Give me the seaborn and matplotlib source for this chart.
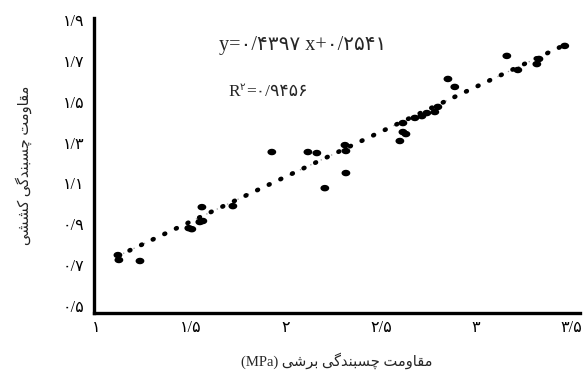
import matplotlib
matplotlib.use("Agg")
import matplotlib.pyplot as plt
from matplotlib.path import Path
import seaborn as sns
import pandas as pd
import numpy as np

# ---------------- data ----------------
shear = [1.116, 1.121, 1.232, 1.489, 1.505, 1.558, 1.547, 1.563, 1.721, 1.926,
         2.116, 2.163, 2.205, 2.316, 2.311, 2.316, 2.600, 2.616, 2.632, 2.616,
         2.679, 2.716, 2.742, 2.784, 2.800, 2.853, 2.889, 3.163, 3.221, 3.321,
         3.332, 3.468]
tensile = [0.749, 0.725, 0.720, 0.881, 0.876, 0.984, 0.911, 0.916, 0.989, 1.254,
           1.254, 1.249, 1.077, 1.151, 1.288, 1.259, 1.308, 1.352, 1.342, 1.396,
           1.421, 1.430, 1.445, 1.450, 1.475, 1.612, 1.573, 1.725, 1.656, 1.685,
           1.710, 1.774]
slope = 0.4397
intercept = 0.2541
x_ticks = [1, 1.5, 2, 2.5, 3, 3.5]
x_tick_labels = ["۱", "۱/۵", "۲", "۲/۵", "۳", "۳/۵"]
y_ticks = [0.5, 0.7, 0.9, 1.1, 1.3, 1.5, 1.7, 1.9]
y_tick_labels = ["۰/۵", "۰/۷", "۰/۹", "۱/۱", "۱/۳", "۱/۵", "۱/۷", "۱/۹"]
x_label_fa = "مقاومت چسبندگی برشی"
x_label_unit = "(MPa)"
y_label_fa = "مقاومت چسبندگی کششی"
eq_text = "y=۰/۴۳۹۷ x+۰/۲۵۴۱"
r2_value = "=۰/۹۴۵۶"

# ---------- minimal Persian shaping (visual order) ----------
FORMS = {
    'ا': ('\uFE8D', '\uFE8E', None, None),
    'ب': ('\uFE8F', '\uFE90', '\uFE91', '\uFE92'),
    'ت': ('\uFE95', '\uFE96', '\uFE97', '\uFE98'),
    'چ': ('\uFB7A', '\uFB7B', '\uFB7C', '\uFB7D'),
    'د': ('\uFEA9', '\uFEAA', None, None),
    'ر': ('\uFEAD', '\uFEAE', None, None),
    'س': ('\uFEB1', '\uFEB2', '\uFEB3', '\uFEB4'),
    'ش': ('\uFEB5', '\uFEB6', '\uFEB7', '\uFEB8'),
    'ق': ('\uFED5', '\uFED6', '\uFED7', '\uFED8'),
    'ک': ('\uFB8E', '\uFB8F', '\uFB90', '\uFB91'),
    'گ': ('\uFB92', '\uFB93', '\uFB94', '\uFB95'),
    'م': ('\uFEE1', '\uFEE2', '\uFEE3', '\uFEE4'),
    'ن': ('\uFEE5', '\uFEE6', '\uFEE7', '\uFEE8'),
    'و': ('\uFEED', '\uFEEE', None, None),
    'ی': ('\uFBFC', '\uFBFD', '\uFBFE', '\uFBFF'),
}


def shape(s):
    out = []
    for i, c in enumerate(s):
        if c not in FORMS:
            out.append(c)
            continue
        prev = s[i - 1] if i > 0 else ''
        nxt = s[i + 1] if i + 1 < len(s) else ''
        iso, fin, ini, med = FORMS[c]
        jp = prev in FORMS and FORMS[prev][2] is not None
        jn = nxt in FORMS and ini is not None
        if jp and jn:
            out.append(med)
        elif jp:
            out.append(fin)
        elif jn:
            out.append(ini)
        else:
            out.append(iso)
    return ''.join(reversed(out))


# elliptical marker (wider than tall, like the reference dots)
_t = np.linspace(0, 2 * np.pi, 40)
ELLIPSE = Path(np.column_stack([np.cos(_t), 0.74 * np.sin(_t)]), closed=True)

# ---------------- style ----------------
sns.set_style("white")
FAM = ['Liberation Serif', 'DejaVu Sans']
plt.rcParams['font.family'] = FAM

fig = plt.figure(figsize=(5.86, 3.74), dpi=100)
ax = fig.add_axes([0.1604, 0.163, 0.829, 0.789])

df = pd.DataFrame({"shear": shear, "tensile": tensile})

# trend line from the printed equation
xl = np.array([min(shear), max(shear)])
line_df = pd.DataFrame({"x": xl, "y": slope * xl + intercept})
sns.lineplot(data=line_df, x="x", y="y", ax=ax, color="#9a9a9a", lw=0.9,
             linestyle=(4.6, (1.0, 8.2)), zorder=2)
sns.lineplot(data=line_df, x="x", y="y", ax=ax, color="black", lw=3.3,
             linestyle=(0, (0.2, 2.6)), dash_capstyle="round", zorder=3)

sns.scatterplot(data=df, x="shear", y="tensile", ax=ax, color="black",
                s=40, marker=ELLIPSE, edgecolor="none", zorder=4)

ax.set_xlim(0.99, 3.547)
ax.set_ylim(0.465, 1.911)
ax.set_xticks(x_ticks)
ax.set_xticklabels(x_tick_labels)
ax.set_yticks(y_ticks)
ax.set_yticklabels(y_tick_labels)
ax.tick_params(axis="both", length=0, labelsize=11.5, colors="black")
ax.tick_params(axis="x", pad=5)
ax.tick_params(axis="y", pad=7)

for side in ["top", "right"]:
    ax.spines[side].set_visible(False)
for side in ["left", "bottom"]:
    ax.spines[side].set_color("black")
    ax.spines[side].set_linewidth(2.4)

ax.set_xlabel(x_label_unit + " " + shape(x_label_fa), fontsize=10.5,
              labelpad=12)
ax.set_ylabel(shape(y_label_fa), fontsize=10.5, labelpad=22)

ax.text(0.430, 0.905, eq_text, transform=ax.transAxes, ha="center",
        va="center", fontsize=14.5)
t_r = ax.text(0.276, 0.75, "R", transform=ax.transAxes, ha="left",
              va="center", fontsize=12.5)
ax.annotate("۲", xy=(1.0, 0.5), xycoords=t_r, ha="left", va="bottom",
            fontsize=7.5)
ax.annotate(r2_value, xy=(1.0, 0.0), xycoords=t_r, xytext=(4.5, 0),
            textcoords="offset points", ha="left", va="bottom", fontsize=12.5)

fig.savefig("out.png", dpi=100)
